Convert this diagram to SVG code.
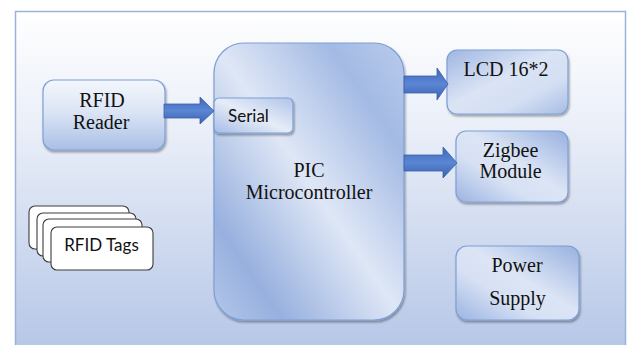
<svg xmlns="http://www.w3.org/2000/svg" width="627" height="345" viewBox="0 0 627 345">
  <defs>
    <linearGradient id="bg" x1="0" y1="0" x2="0" y2="1">
      <stop offset="0" stop-color="#ffffff"/>
      <stop offset="0.35" stop-color="#e9eef8"/>
      <stop offset="1" stop-color="#b4c5e6"/>
    </linearGradient>
    <linearGradient id="vert" x1="0" y1="0" x2="0" y2="1">
      <stop offset="0" stop-color="#f3f6fc"/>
      <stop offset="0.45" stop-color="#dce5f5"/>
      <stop offset="1" stop-color="#a9bfe6"/>
    </linearGradient>
    <linearGradient id="diagA" x1="0" y1="0" x2="1" y2="1">
      <stop offset="0" stop-color="#9fb6e2"/>
      <stop offset="0.45" stop-color="#dbe4f5"/>
      <stop offset="0.7" stop-color="#d4dff3"/>
      <stop offset="1" stop-color="#a7bde5"/>
    </linearGradient>
    <linearGradient id="diagB" x1="1" y1="0" x2="0" y2="1">
      <stop offset="0" stop-color="#98b1e0"/>
      <stop offset="0.45" stop-color="#dce5f5"/>
      <stop offset="0.65" stop-color="#d7e1f4"/>
      <stop offset="1" stop-color="#9cb4e1"/>
    </linearGradient>
    <linearGradient id="main" x1="0" y1="1" x2="1" y2="0">
      <stop offset="0" stop-color="#b4c7ea"/>
      <stop offset="0.18" stop-color="#97b0de"/>
      <stop offset="0.5" stop-color="#dfe7f6"/>
      <stop offset="0.8" stop-color="#a3bae4"/>
      <stop offset="1" stop-color="#b9cbec"/>
    </linearGradient>
    <linearGradient id="serialFill" x1="1" y1="0" x2="0" y2="1">
      <stop offset="0" stop-color="#aec3e8"/>
      <stop offset="0.5" stop-color="#e6ecf8"/>
      <stop offset="1" stop-color="#a5bce5"/>
    </linearGradient>
    <linearGradient id="arrowFill" x1="0" y1="0" x2="0" y2="1">
      <stop offset="0" stop-color="#3e68b9"/>
      <stop offset="0.5" stop-color="#5b86d4"/>
      <stop offset="1" stop-color="#3a62b0"/>
    </linearGradient>
    <filter id="shadow" x="-10%" y="-10%" width="125%" height="130%">
      <feGaussianBlur in="SourceAlpha" stdDeviation="1.2"/>
      <feOffset dx="1" dy="2" result="b"/>
      <feComponentTransfer><feFuncA type="linear" slope="0.35"/></feComponentTransfer>
      <feMerge><feMergeNode/><feMergeNode in="SourceGraphic"/></feMerge>
    </filter>
  </defs>
  <style>
    .box { stroke: #7f9fd6; stroke-width: 1.2; filter: url(#shadow); }
    .serif { font-family: "Liberation Serif", "Times New Roman", serif; font-size: 20px; fill: #111; text-anchor: middle; }
    .sans { font-family: Lato, "Liberation Sans", sans-serif; font-size: 17px; fill: #111; }
    .tag { fill: #ffffff; stroke: #3d3d3d; stroke-width: 1.1; }
    .arrow { fill: url(#arrowFill); stroke: #3a5fa8; stroke-width: 0.8; }
  </style>

  <!-- frame -->
  <rect x="15.5" y="11.5" width="610" height="345" fill="url(#bg)" stroke="#9bb2dc" stroke-width="1.5"/>

  <g id="rfid-reader">
    <rect class="box" x="43" y="80" width="122" height="70" rx="11" fill="url(#vert)"/>
    <text class="serif" x="102" y="107">RFID</text>
    <text class="serif" x="101" y="129">Reader</text>
  </g>

  <g id="pic">
    <rect class="box" x="214" y="43" width="190" height="277" rx="30" fill="url(#main)"/>
    <text class="serif" x="309" y="177">PIC</text>
    <text class="serif" x="309" y="199">Microcontroller</text>
  </g>

  <g id="serial">
    <rect class="box" x="214" y="98" width="79" height="35" rx="5" fill="url(#serialFill)"/>
    <text class="sans" x="228" y="122">Serial</text>
  </g>

  <g id="lcd">
    <rect class="box" x="447" y="50" width="121" height="64" rx="10" fill="url(#diagA)"/>
    <text class="serif" x="506" y="76">LCD 16*2</text>
  </g>

  <g id="zigbee">
    <rect class="box" x="456" y="131" width="112" height="71" rx="10" fill="url(#diagB)"/>
    <text class="serif" x="510.5" y="157">Zigbee</text>
    <text class="serif" x="510.5" y="178">Module</text>
  </g>

  <g id="power">
    <rect class="box" x="456" y="246" width="123" height="74" rx="11" fill="url(#diagB)"/>
    <text class="serif" x="517" y="272">Power</text>
    <text class="serif" x="517.5" y="305">Supply</text>
  </g>

  <g id="rfid-tags">
    <rect class="tag" x="29" y="206" width="100" height="43" rx="6"/>
    <rect class="tag" x="37" y="213" width="99" height="43" rx="6"/>
    <rect class="tag" x="43" y="219" width="99" height="43" rx="6"/>
    <rect class="tag" x="51" y="227" width="102" height="43" rx="6"/>
    <text class="sans" x="101.5" y="251" text-anchor="middle">RFID Tags</text>
  </g>

  <g id="connectors">
    <!-- reader to serial -->
    <polygon class="arrow" points="164,104 200,104 200,97 214,111 200,124 200,118 164,118"/>
    <!-- controller to LCD -->
    <polygon class="arrow" points="404,76 437,76 437,68 448,84 437,100 437,93 404,93"/>
    <!-- controller to Zigbee -->
    <polygon class="arrow" points="404,155 443,155 443,147 457,163 443,178 443,171 404,171"/>
  </g>
</svg>
